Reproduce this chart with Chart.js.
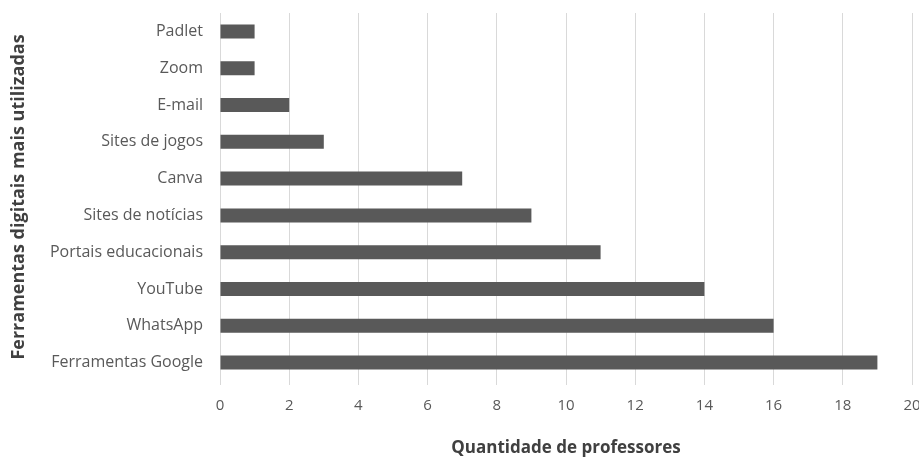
<!DOCTYPE html>
<html>
<head>
<meta charset="utf-8">
<script src="https://cdn.jsdelivr.net/npm/chart.js@4/dist/chart.umd.min.js"></script>
<style>
  html, body { margin: 0; padding: 0; background: #fff; }
  #wrap { width: 919px; height: 460px; }
</style>
</head>
<body>
<div id="wrap"><canvas id="toolsChart" width="919" height="460"></canvas></div>
<script>
// ferramentas digitais x quantidade de professores
const tools = ['Padlet', 'Zoom', 'E-mail', 'Sites de jogos', 'Canva', 'Sites de notícias',
  'Portais educacionais', 'YouTube', 'WhatsApp', 'Ferramentas Google'];
const teachers = [1, 1, 2, 3, 7, 9, 11, 14, 16, 19];
const xTicks = [0, 2, 4, 6, 8, 10, 12, 14, 16, 18, 20];

const txtColor = '#595959';
const fontFam = '"Open Sans", "Liberation Sans", sans-serif';

const ctx = document.getElementById('toolsChart').getContext('2d');
const chart = new Chart(ctx, {
  type: 'bar',
  data: {
    labels: tools,
    datasets: [{ label: 'Professores', data: teachers, backgroundColor: '#595959', barPercentage: 0.38, categoryPercentage: 1 }]
  },
  options: {
    indexAxis: 'y',
    responsive: false,
    animation: false,
    layout: { padding: { top: 13, right: 7, left: 0, bottom: 0 } },
    plugins: { legend: { display: false }, tooltip: { enabled: false } },
    scales: {
      x: {
        min: 0, max: 20,
        afterBuildTicks: s => { s.ticks = xTicks.map(v => ({ value: v })); },
        afterFit: s => { s.paddingLeft = 0; s.paddingRight = 0; s.height = 79; },
        grid: { color: '#d9d9d9', tickLength: 4, drawTicks: true },
        border: { display: false },
        ticks: { color: txtColor, padding: 12, font: { family: fontFam, size: 15 } },
        title: { display: true, text: 'Quantidade de professores', color: '#404040', padding: { top: 4, bottom: 2 },
          font: { family: fontFam, size: 17, weight: 'bold' } }
      },
      y: {
        afterFit: s => { s.width = 220; s.paddingTop = 0; s.paddingBottom = 0; },
        grid: { display: false },
        border: { color: '#d9d9d9' },
        ticks: { color: txtColor, padding: 9, font: { family: fontFam, size: 16 } },
        title: { display: true, text: 'Ferramentas digitais mais utilizadas', color: '#404040', padding: { top: 8, bottom: 0 },
          font: { family: fontFam, size: 18, weight: 'bold' } }
      }
    }
  }
});
</script>
</body>
</html>
